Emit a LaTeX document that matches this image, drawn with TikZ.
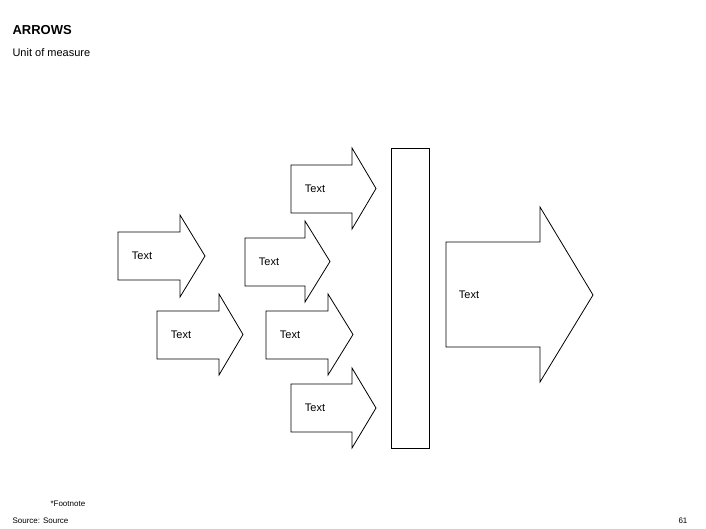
\documentclass[tikz,border=0pt]{standalone}
\usepackage{fontspec}
\setmainfont{Liberation Sans}
\newcommand\myarrow[9]{%
  \draw[shp] (#2,#4) -- (#3,#4) -- (#3,#6) -- (#8,{(#6+#7)/2}) -- (#3,#7) -- (#3,#5) -- (#2,#5) -- cycle;
  \node[lbl] (#1) at ({#2+24},{(#6+#7)/2}) {#9};}
\begin{document}
\begin{tikzpicture}[x=1pt,y=-1pt,shp/.style={draw=black,line width=0.8pt,line join=miter,fill=white},
  lbl/.style={font=\fontsize{11}{13}\selectfont}]
\useasboundingbox (0,0) rectangle (706,529);
\node[anchor=base west,font=\bfseries\fontsize{13}{15}\selectfont] (title) at (9,35) {ARROWS};
\node[anchor=base west,font=\fontsize{11}{13}\selectfont] (sub) at (9,57) {Unit of measure};
\myarrow{a}{291}{352}{165}{213}{148}{229}{376}{Text}
\myarrow{b}{118}{180}{232}{280}{215}{297}{205}{Text}
\myarrow{c}{245}{305}{238}{286}{221}{302}{330}{Text}
\myarrow{d}{157}{219}{311}{359}{294}{375}{243}{Text}
\myarrow{e}{266}{328}{311}{359}{294}{375}{353}{Text}
\myarrow{f}{291}{352}{384}{432}{368}{448}{376}{Text}
\draw[shp] (391,148) rectangle (429,448);
\draw[shp] (446,242) -- (540,242) -- (540,207) -- (593,295) -- (540,382) -- (540,347) -- (446,347) -- cycle;
\node[lbl] (g) at (469,295) {Text};
\node[anchor=base west,font=\fontsize{8}{10}\selectfont] (fn) at (47,506) {*Footnote};
\node[anchor=base west,font=\fontsize{8}{10}\selectfont] (src) at (9,523) {Source: Source};
\node[anchor=base west,font=\fontsize{8}{10}\selectfont] (pg) at (675,523) {61};
\end{tikzpicture}
\end{document}
